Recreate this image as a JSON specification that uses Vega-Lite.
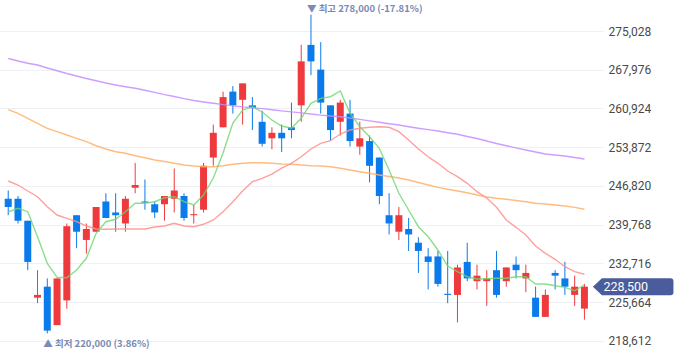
{
  "$schema": "https://vega.github.io/schema/vega-lite/v6.json",
  "autosize": "none",
  "width": 603,
  "height": 358,
  "padding": {"left": 0, "top": 0, "right": 77, "bottom": 0},
  "background": "#ffffff",
  "config": {"view": {"stroke": null}},
  "datasets": {
    "candles": [
      {"i":0,"o":244500,"h":246000,"l":241500,"c":243000},
      {"i":1,"o":244500,"h":245000,"l":240000,"c":240500},
      {"i":2,"o":240500,"h":240500,"l":231500,"c":233000},
      {"i":3,"o":226500,"h":231500,"l":225500,"c":227000},
      {"i":4,"o":228500,"h":230000,"l":220000,"c":220500},
      {"i":5,"o":221500,"h":230000,"l":221500,"c":230000},
      {"i":6,"o":226000,"h":240000,"l":224500,"c":239500},
      {"i":7,"o":241500,"h":241500,"l":235500,"c":238500},
      {"i":8,"o":237000,"h":240000,"l":234500,"c":239000},
      {"i":9,"o":238500,"h":243000,"l":238500,"c":243000},
      {"i":10,"o":244000,"h":245500,"l":241000,"c":241000},
      {"i":11,"o":242000,"h":245500,"l":238500,"c":241500},
      {"i":12,"o":240000,"h":245000,"l":238500,"c":244500},
      {"i":13,"o":246500,"h":251000,"l":245500,"c":247000},
      {"i":14,"o":244000,"h":248000,"l":242500,"c":243800},
      {"i":15,"o":243500,"h":244000,"l":241000,"c":242000},
      {"i":16,"o":243500,"h":245000,"l":240500,"c":245000},
      {"i":17,"o":244500,"h":250000,"l":242000,"c":246000},
      {"i":18,"o":245000,"h":245500,"l":240500,"c":241000},
      {"i":19,"o":241500,"h":243500,"l":240000,"c":241700},
      {"i":20,"o":242500,"h":251000,"l":242000,"c":250500},
      {"i":21,"o":252000,"h":258000,"l":250500,"c":256500},
      {"i":22,"o":257500,"h":264000,"l":257500,"c":263000},
      {"i":23,"o":264000,"h":265000,"l":260000,"c":261500},
      {"i":24,"o":262500,"h":265500,"l":258000,"c":265500},
      {"i":25,"o":261500,"h":263000,"l":257000,"c":261000},
      {"i":26,"o":258500,"h":260500,"l":254000,"c":254500},
      {"i":27,"o":255500,"h":257500,"l":253500,"c":256500},
      {"i":28,"o":256500,"h":258000,"l":253000,"c":255500},
      {"i":29,"o":257500,"h":262000,"l":255500,"c":257000},
      {"i":30,"o":261500,"h":272500,"l":258500,"c":269500},
      {"i":31,"o":272500,"h":278000,"l":267000,"c":269500},
      {"i":32,"o":268000,"h":273000,"l":260000,"c":262000},
      {"i":33,"o":261500,"h":261500,"l":255000,"c":257000},
      {"i":34,"o":258500,"h":262500,"l":256000,"c":262000},
      {"i":35,"o":260000,"h":262500,"l":254000,"c":255000},
      {"i":36,"o":254000,"h":258500,"l":252500,"c":255500},
      {"i":37,"o":255000,"h":256000,"l":247500,"c":250500},
      {"i":38,"o":252000,"h":252000,"l":243500,"c":245000},
      {"i":39,"o":241500,"h":245500,"l":238000,"c":240000},
      {"i":40,"o":238500,"h":243000,"l":237000,"c":241500},
      {"i":41,"o":239000,"h":241000,"l":235000,"c":238000},
      {"i":42,"o":236500,"h":237500,"l":231000,"c":235000},
      {"i":43,"o":234000,"h":235500,"l":228000,"c":233000},
      {"i":44,"o":234000,"h":235000,"l":228500,"c":229000},
      {"i":45,"o":227200,"h":235000,"l":225500,"c":227000},
      {"i":46,"o":227000,"h":232500,"l":222000,"c":232000},
      {"i":47,"o":233000,"h":236500,"l":229500,"c":230000},
      {"i":48,"o":229500,"h":232500,"l":228000,"c":230500},
      {"i":49,"o":229500,"h":231500,"l":225000,"c":230000},
      {"i":50,"o":231500,"h":235000,"l":226500,"c":227000},
      {"i":51,"o":229500,"h":232000,"l":228500,"c":232000},
      {"i":52,"o":232500,"h":234000,"l":230000,"c":231500},
      {"i":53,"o":230000,"h":232500,"l":227500,"c":231000},
      {"i":54,"o":226500,"h":228500,"l":223000,"c":223000},
      {"i":55,"o":223000,"h":228000,"l":223000,"c":227000},
      {"i":56,"o":231000,"h":231500,"l":228000,"c":230500},
      {"i":57,"o":230000,"h":233000,"l":227000,"c":228500},
      {"i":58,"o":227000,"h":230500,"l":225000,"c":228500},
      {"i":59,"o":224500,"h":229000,"l":222500,"c":228500}
    ],
    "ma": [
      {"i":0,"ma5":242090,"ma20":247730,"ma60":260710,"ma120":270020},
      {"i":1,"ma5":242760,"ma20":247000,"ma60":260050,"ma120":269570},
      {"i":2,"ma5":242140,"ma20":245910,"ma60":259140,"ma120":269150},
      {"i":3,"ma5":237590,"ma20":244870,"ma60":258230,"ma120":268840},
      {"i":4,"ma5":232750,"ma20":243050,"ma60":257320,"ma120":268290},
      {"i":5,"ma5":230200,"ma20":241540,"ma60":256700,"ma120":267800},
      {"i":6,"ma5":230130,"ma20":240940,"ma60":256100,"ma120":267290},
      {"i":7,"ma5":231530,"ma20":240320,"ma60":255500,"ma120":266840},
      {"i":8,"ma5":233660,"ma20":239540,"ma60":254880,"ma120":266380},
      {"i":9,"ma5":238210,"ma20":238990,"ma60":254150,"ma120":265980},
      {"i":10,"ma5":240320,"ma20":238940,"ma60":253550,"ma120":265560},
      {"i":11,"ma5":240760,"ma20":238990,"ma60":253060,"ma120":265200},
      {"i":12,"ma5":242140,"ma20":238990,"ma60":252770,"ma120":264890},
      {"i":13,"ma5":243670,"ma20":238990,"ma60":252330,"ma120":264600},
      {"i":14,"ma5":243670,"ma20":238990,"ma60":251970,"ma120":264240},
      {"i":15,"ma5":243960,"ma20":239360,"ma60":251550,"ma120":263870},
      {"i":16,"ma5":244690,"ma20":239540,"ma60":251280,"ma120":263440},
      {"i":17,"ma5":244870,"ma20":240030,"ma60":250950,"ma120":263110},
      {"i":18,"ma5":243960,"ma20":239540,"ma60":250640,"ma120":262710},
      {"i":19,"ma5":243360,"ma20":239410,"ma60":250460,"ma120":262380},
      {"i":20,"ma5":245180,"ma20":239850,"ma60":250330,"ma120":262110},
      {"i":21,"ma5":248270,"ma20":240630,"ma60":250330,"ma120":261870},
      {"i":22,"ma5":252820,"ma20":242140,"ma60":250510,"ma120":261630},
      {"i":23,"ma5":258280,"ma20":243960,"ma60":250770,"ma120":261410},
      {"i":24,"ma5":260650,"ma20":245910,"ma60":250950,"ma120":261210},
      {"i":25,"ma5":261250,"ma20":247600,"ma60":251060,"ma120":261070},
      {"i":26,"ma5":260290,"ma20":248220,"ma60":251060,"ma120":260910},
      {"i":27,"ma5":258830,"ma20":249000,"ma60":250950,"ma120":260690},
      {"i":28,"ma5":257740,"ma20":250090,"ma60":250820,"ma120":260490},
      {"i":29,"ma5":257320,"ma20":250950,"ma60":250770,"ma120":260300},
      {"i":30,"ma5":259140,"ma20":252150,"ma60":250640,"ma120":260120},
      {"i":31,"ma5":261870,"ma20":253550,"ma60":250510,"ma120":259920},
      {"i":32,"ma5":262780,"ma20":254590,"ma60":250460,"ma120":259720},
      {"i":33,"ma5":263070,"ma20":255060,"ma60":250330,"ma120":259560},
      {"i":34,"ma5":264110,"ma20":256280,"ma60":250040,"ma120":259410},
      {"i":35,"ma5":260050,"ma20":257010,"ma60":249730,"ma120":259190},
      {"i":36,"ma5":257610,"ma20":257320,"ma60":249420,"ma120":258940},
      {"i":37,"ma5":255790,"ma20":257500,"ma60":249130,"ma120":258670},
      {"i":38,"ma5":253680,"ma20":257610,"ma60":248820,"ma120":258410},
      {"i":39,"ma5":249730,"ma20":257500,"ma60":248550,"ma120":258160},
      {"i":40,"ma5":245490,"ma20":256700,"ma60":248270,"ma120":257920},
      {"i":41,"ma5":242450,"ma20":255190,"ma60":247910,"ma120":257610},
      {"i":42,"ma5":239410,"ma20":253550,"ma60":247460,"ma120":257320},
      {"i":43,"ma5":237590,"ma20":252150,"ma60":247000,"ma120":257070},
      {"i":44,"ma5":235170,"ma20":250950,"ma60":246580,"ma120":256830},
      {"i":45,"ma5":232260,"ma20":249550,"ma60":246220,"ma120":256520},
      {"i":46,"ma5":231220,"ma20":248510,"ma60":245910,"ma120":256230},
      {"i":47,"ma5":230310,"ma20":247310,"ma60":245600,"ma120":255830},
      {"i":48,"ma5":229890,"ma20":245780,"ma60":245180,"ma120":255460},
      {"i":49,"ma5":229950,"ma20":244630,"ma60":244820,"ma120":255010},
      {"i":50,"ma5":230020,"ma20":242940,"ma60":244580,"ma120":254550},
      {"i":51,"ma5":230020,"ma20":240630,"ma60":244400,"ma120":254150},
      {"i":52,"ma5":230310,"ma20":239300,"ma60":244180,"ma120":253750},
      {"i":53,"ma5":230310,"ma20":237900,"ma60":243960,"ma120":253370},
      {"i":54,"ma5":228980,"ma20":235900,"ma60":243670,"ma120":253010},
      {"i":55,"ma5":228980,"ma20":234570,"ma60":243540,"ma120":252640},
      {"i":56,"ma5":228670,"ma20":233480,"ma60":243360,"ma120":252460},
      {"i":57,"ma5":228380,"ma20":232130,"ma60":243180,"ma120":252280},
      {"i":58,"ma5":227760,"ma20":231220,"ma60":242940,"ma120":252010},
      {"i":59,"ma5":228800,"ma20":230750,"ma60":242580,"ma120":251730}
    ]
  },
  "encoding": {
    "x": {"field": "i", "type": "quantitative", "axis": null,
          "scale": {"domain": [-0.33, 60.39], "nice": false, "zero": false}}
  },
  "layer": [
    {
      "data": {"name": "candles"},
      "mark": {"type": "rule", "strokeWidth": 1},
      "encoding": {
        "y": {"field": "h", "type": "quantitative",
              "scale": {"domain": [215517, 280670], "nice": false, "zero": false},
              "axis": {"orient": "right", "title": null, "domain": false, "ticks": false,
                       "values": [218612, 225664, 232716, 239768, 246820, 253872, 260924, 267976, 275028],
                       "format": ",d", "labelFont": "Roboto", "labelFontSize": 12, "labelColor": "#4a4a4a",
                       "labelPadding": 5, "grid": true, "gridColor": "#eef0f3", "gridWidth": 1}},
        "y2": {"field": "l"},
        "color": {"condition": {"test": "datum.c >= datum.o", "value": "#ef3a3d"}, "value": "#0b7bec"}
      }
    },
    {
      "data": {"name": "candles"},
      "mark": {"type": "bar", "width": 7},
      "encoding": {
        "y": {"field": "o", "type": "quantitative"},
        "y2": {"field": "c"},
        "color": {"condition": {"test": "datum.c >= datum.o", "value": "#ef3a3d"}, "value": "#0b7bec"}
      }
    },
    {
      "data": {"name": "ma"},
      "mark": {"type": "line", "color": "#c38dff", "strokeWidth": 1.4, "opacity": 0.85},
      "encoding": {"y": {"field": "ma120", "type": "quantitative"}}
    },
    {
      "data": {"name": "ma"},
      "mark": {"type": "line", "color": "#ffb06a", "strokeWidth": 1.4, "opacity": 0.85},
      "encoding": {"y": {"field": "ma60", "type": "quantitative"}}
    },
    {
      "data": {"name": "ma"},
      "mark": {"type": "line", "color": "#ff8f8f", "strokeWidth": 1.4, "opacity": 0.85},
      "encoding": {"y": {"field": "ma20", "type": "quantitative"}}
    },
    {
      "data": {"name": "ma"},
      "mark": {"type": "line", "color": "#6fd66f", "strokeWidth": 1.4, "opacity": 0.8},
      "encoding": {"y": {"field": "ma5", "type": "quantitative"}}
    },
    {
      "data": {"values": [{"i": 31, "v": 278000, "label": "▼ 최고 278,000 (-17.81%)"}]},
      "mark": {"type": "text", "align": "left", "baseline": "middle", "dx": -4, "dy": -6,
               "font": "Noto Sans CJK KR", "fontWeight": "bold", "fontSize": 9.5, "fill": "#7a8ab5"},
      "encoding": {"y": {"field": "v", "type": "quantitative"}, "text": {"field": "label"}}
    },
    {
      "data": {"values": [{"i": 4, "v": 220000, "label": "▲ 최저 220,000 (3.86%)"}]},
      "mark": {"type": "text", "align": "left", "baseline": "middle", "dx": -4, "dy": 11,
               "font": "Noto Sans CJK KR", "fontWeight": "bold", "fontSize": 9.5, "fill": "#7a8ab5"},
      "encoding": {"y": {"field": "v", "type": "quantitative"}, "text": {"field": "label"}}
    },
    {
      "data": {"values": [{"i": 59, "v": 228500, "label": "228,500"}]},
      "mark": {"type": "point", "filled": true, "fill": "#4a5c9c", "opacity": 1, "strokeWidth": 0, "size": 400,
               "shape": "M 0.85 0 L 1.75 -0.85 L 8.6 -0.85 Q 8.9 -0.85 8.9 -0.55 L 8.9 0.55 Q 8.9 0.85 8.6 0.85 L 1.75 0.85 Z"},
      "encoding": {"y": {"field": "v", "type": "quantitative"}}
    },
    {
      "data": {"values": [{"i": 59, "v": 228500, "label": "228,500"}]},
      "mark": {"type": "text", "align": "left", "baseline": "middle", "dx": 19, "dy": 0,
               "font": "Roboto", "fontSize": 12.5, "fill": "#ffffff"},
      "encoding": {"y": {"field": "v", "type": "quantitative"}, "text": {"field": "label"}}
    }
  ]
}
